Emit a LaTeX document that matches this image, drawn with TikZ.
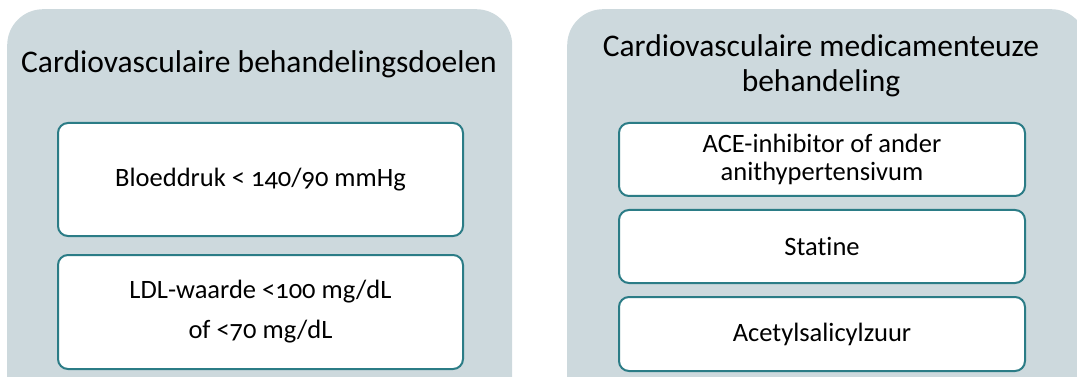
\documentclass[tikz,border=0pt]{standalone}
\usepackage{fontspec}
\setmainfont{Carlito}[Numbers=OldStyle, Ligatures=NoCommon]
\usetikzlibrary{positioning}
\definecolor{panelgrey}{HTML}{CDD9DD}
\definecolor{tealline}{HTML}{2B7C86}

\begin{document}
\begin{tikzpicture}[x=1pt, y=-1pt,
  panel/.style={fill=panelgrey, draw=none, rounded corners=36pt,
    anchor=north west, inner sep=0pt, minimum height=420pt},
  itembox/.style={draw=tealline, line width=2pt, fill=white,
    rounded corners=10pt, minimum width=405pt, align=center,
    inner sep=0pt, font=\fontsize{26.5}{28}\selectfont},
  paneltitle/.style={align=center, font=\fontsize{31.5}{35}\selectfont}]
  \useasboundingbox (0,0) rectangle (1077,377);
  \clip (0,0) rectangle (1077,377);

  % panels
  \node[panel, minimum width=505pt] (goals) at (7,9) {};
  \node[panel, minimum width=520pt] (meds) at (567,9) {};

  % panel titles
  \node[paneltitle, anchor=base] (goalstitle) at (259,73)
    {Cardiovasculaire behandelingsdoelen};
  \node[paneltitle, anchor=base] (medstitle) at (821,92)
    {Cardiovasculaire medicamenteuze\\behandeling};

  % treatment goals
  \node[itembox, anchor=north west, minimum height=113pt] (bp) at (57,122)
    {Bloeddruk < 140/90 mmHg};
  \node[itembox, minimum height=114pt, below=17pt of bp] (ldl)
    {LDL-waarde <100 mg/dL\\[12pt]of <70 mg/dL};

  % medication
  \node[itembox, anchor=north west, minimum width=406pt, minimum height=73pt]
    (ace) at (618,122) {ACE-inhibitor of ander\\anithypertensivum};
  \node[itembox, minimum width=406pt, minimum height=73pt,
    below=12pt of ace] (statin) {Statine};
  \node[itembox, minimum width=406pt, minimum height=74pt,
    below=12pt of statin] (asa) {Acetylsalicylzuur};
\end{tikzpicture}
\end{document}
